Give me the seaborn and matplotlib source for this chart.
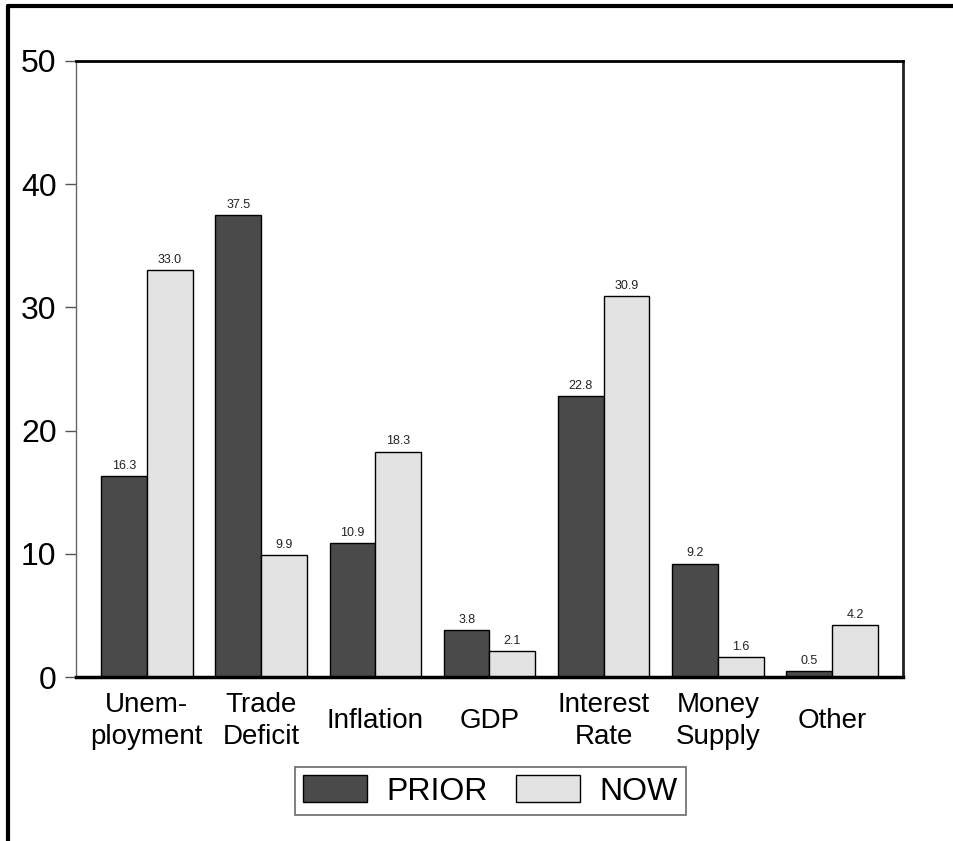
import pandas as pd
import matplotlib.pyplot as plt
import seaborn as sns
from matplotlib.lines import Line2D

sns.set_theme(style="white")
plt.rcParams['font.family'] = ['Liberation Sans', 'DejaVu Sans']
plt.rcParams['text.color'] = 'black'
plt.rcParams['xtick.color'] = 'black'
plt.rcParams['ytick.color'] = 'black'

categories = ["Unem-\nployment", "Trade\nDeficit", "Inflation", "GDP",
              "Interest\nRate", "Money\nSupply", "Other"]
series = ["PRIOR", "NOW"]
prior = [16.3, 37.5, 10.9, 3.8, 22.8, 9.2, 0.5]
now = [33.0, 9.9, 18.3, 2.1, 30.9, 1.6, 4.2]

df = pd.DataFrame({
    "category": categories * 2,
    "group": ["PRIOR"] * len(categories) + ["NOW"] * len(categories),
    "value": prior + now,
})

fig = plt.figure(figsize=(9.54, 8.41), dpi=100)
ax = fig.add_axes([0.0797, 0.195, 0.8668, 0.7325])

sns.barplot(data=df, x="category", y="value", hue="group", hue_order=series,
            order=categories, palette=["#4a4a4a", "#e3e3e3"],
            edgecolor="black", linewidth=1.0, width=0.8, ax=ax)

for c in ax.containers:
    ax.bar_label(c, fmt="%.1f", padding=3, fontsize=9, color="#222222")

ax.set_ylim(0, 50)
ax.set_xlim(-0.62, 6.62)
ax.set_yticks([0, 10, 20, 30, 40, 50])
ax.set_xlabel("")
ax.set_ylabel("")

ax.tick_params(axis="y", left=True, length=8, width=1, color="#555555",
               labelcolor="black", labelsize=23, pad=6)
ax.tick_params(axis="x", bottom=False, length=0, labelcolor="black",
               labelsize=20, pad=32)
for lab in ax.get_xticklabels():
    lab.set_verticalalignment("center")
    lab.set_multialignment("center")
    lab.set_linespacing(1.3)

ax.spines["left"].set_color("#666666")
ax.spines["left"].set_linewidth(1)
ax.spines["top"].set_color("black")
ax.spines["top"].set_linewidth(2)
ax.spines["right"].set_color("#222222")
ax.spines["right"].set_linewidth(2)
ax.spines["bottom"].set_color("black")
ax.spines["bottom"].set_linewidth(2.5)

ax.legend_.remove()
handles, labels = ax.get_legend_handles_labels()
leg = fig.legend(handles, labels, loc="center", bbox_to_anchor=(0.514, 0.0595),
                 ncol=2, fontsize=23, frameon=True, fancybox=False,
                 edgecolor="#444444", handlelength=2.0, handleheight=0.9,
                 columnspacing=0.9, handletextpad=0.6, borderpad=0.25,
                 labelcolor="black")
leg.get_frame().set_linewidth(1.2)

# outer frame (top and left only)
fig.add_artist(Line2D([0.008, 1.0], [0.993, 0.993], color="black", lw=3,
                      transform=fig.transFigure))
fig.add_artist(Line2D([0.0085, 0.0085], [0.0, 0.993], color="black", lw=3,
                      transform=fig.transFigure))

fig.savefig("out.png", dpi=100)
